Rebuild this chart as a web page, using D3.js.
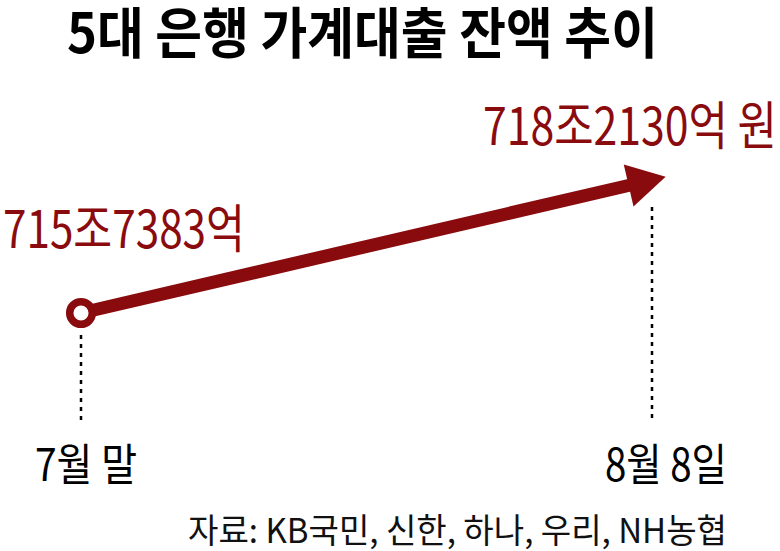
<!DOCTYPE html>
<html>
<head>
<meta charset="utf-8">
<script src="https://cdnjs.cloudflare.com/ajax/libs/d3/7.8.5/d3.min.js"></script>
<style>
    body { margin: 0; background: #fff; }
    text { font-family: "Noto Sans CJK KR", "Noto Sans", sans-serif; }
</style>
</head>
<body>
<div id="chart"></div>
<script>
// ARROW CHART - household loan balance of 5 banks

var title = "5대 은행 가계대출 잔액 추이";
var categories = ["7월 말", "8월 8일"];
var balances = [715.7383, 718.2130];                  // 조 원
var valueLabels = ["715조7383억", "718조2130억 원"];
var source = "자료: KB국민, 신한, 하나, 우리, NH농협";

var width = 780;
var height = 551;
var red = "#8a0b0e";

var svg = d3.select("#chart")
            .append("svg")
            .attr("width", width)
            .attr("height", height);

// Squeezes a text so it runs from left to left + w; ky stretches it vertically (condensed look)
function fit(sel, left, baseline, w, ky) {
    var natural = sel.node().getComputedTextLength();
    var k = w / natural;
    sel.attr("x", 0).attr("y", 0)
       .attr("transform", "translate(" + left + "," + baseline + ") scale(" + k + "," + (ky || 1) + ")");
    return sel;
}

// Scales

var x = d3.scalePoint()
          .domain(categories)
          .range([81, 652]);

var y = d3.scaleLinear()
          .domain(d3.extent(balances))
          .range([313, 180]);

var pts = categories.map(function(c, i) {
    return [x(c), y(balances[i])];
});

// Title

fit(svg.append("text")
    .attr("font-size", 44)
    .attr("font-weight", "bold")
    .attr("fill", "#000")
    .text(title), 67, 53, 591, 1.25);

// Dashed guide lines

svg.append("line")
    .attr("x1", pts[0][0]).attr("x2", pts[0][0])
    .attr("y1", pts[0][1] + 22).attr("y2", 423)
    .attr("stroke", "#000")
    .attr("stroke-width", 2.5)
    .attr("stroke-dasharray", "4,5");

svg.append("line")
    .attr("x1", pts[1][0]).attr("x2", pts[1][0])
    .attr("y1", pts[1][1] + 27).attr("y2", 423)
    .attr("stroke", "#000")
    .attr("stroke-width", 2.5)
    .attr("stroke-dasharray", "4,5");

// Arrow

var dx = pts[1][0] - pts[0][0];
var dy = pts[1][1] - pts[0][1];
var len = Math.sqrt(dx * dx + dy * dy);
var ux = dx / len, uy = dy / len;                      // direction
var nx = -uy, ny = ux;                                 // normal

var tip = [pts[1][0] + ux * 14, pts[1][1] + uy * 14];
var back = [tip[0] - ux * 38, tip[1] - uy * 38];

svg.append("line")
    .attr("x1", pts[0][0]).attr("y1", pts[0][1])
    .attr("x2", back[0] + ux * 2).attr("y2", back[1] + uy * 2)
    .attr("stroke", red)
    .attr("stroke-width", 13);

svg.append("path")
    .attr("d", d3.line()([
        tip,
        [back[0] + nx * 21.5, back[1] + ny * 21.5],
        [back[0] - nx * 21.5, back[1] - ny * 21.5]
    ]) + "Z")
    .attr("fill", red);

svg.append("circle")
    .attr("cx", pts[0][0])
    .attr("cy", pts[0][1])
    .attr("r", 11.3)
    .attr("fill", "#fff")
    .attr("stroke", red)
    .attr("stroke-width", 7.5);

// Value labels

fit(svg.append("text")
    .attr("font-size", 44)
    .attr("fill", red)
    .text(valueLabels[0]), 3, pts[0][1] - 65, 242, 1.18);

fit(svg.append("text")
    .attr("font-size", 44)
    .attr("fill", red)
    .text(valueLabels[1]), 483, pts[1][1] - 35, 294, 1.18);

// Category labels

var catLeft = [35, 605];
var catWidth = [102, 122];

categories.forEach(function(c, i) {
    fit(svg.append("text")
        .attr("class", "cat")
        .attr("font-size", 38)
        .attr("fill", "#000")
        .text(c), catLeft[i], 481, catWidth[i], 1.18);
});

// Source

fit(svg.append("text")
    .attr("font-size", 28)
    .attr("fill", "#111")
    .text(source), 188, 543, 539, 1.2);
</script>
</body>
</html>
